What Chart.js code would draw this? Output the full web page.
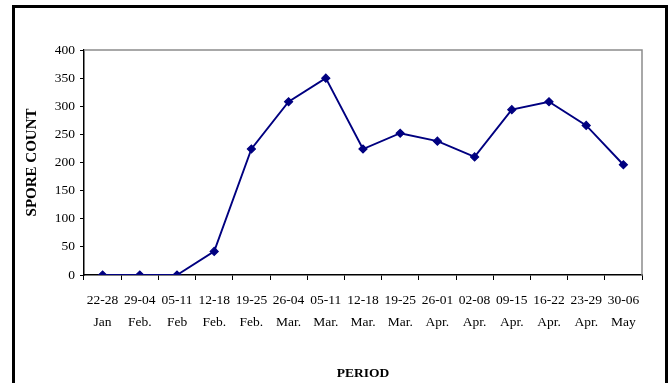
<!DOCTYPE html>
<html>
<head>
<meta charset="utf-8">
<script src="https://cdn.jsdelivr.net/npm/chart.js@4"></script>
<style>
  html, body { margin: 0; padding: 0; background: #fff; }
  #wrap { position: relative; width: 669px; height: 383px; }
  #frame { position: absolute; left: 12px; top: 5px; width: 650px; height: 380px;
           border: 3px solid #000; border-bottom: none; pointer-events: none; }
</style>
</head>
<body>
<div id="wrap">
  <canvas id="c" width="669" height="383"></canvas>
  <div id="frame"></div>
</div>
<script>
const periods = ["22-28","29-04","05-11","12-18","19-25","26-04","05-11","12-18","19-25","26-01","02-08","09-15","16-22","23-29","30-06"];
const months  = ["Jan","Feb.","Feb","Feb.","Feb.","Mar.","Mar.","Mar.","Mar.","Apr.","Apr.","Apr.","Apr.","Apr.","May"];
const sporeCount = [0, 0, 0, 42, 224, 308, 350, 224, 252, 238, 210, 294, 308, 266, 196];
const yTicks = [0, 50, 100, 150, 200, 250, 300, 350, 400];

const labels = periods.map((p, i) => [p, months[i]]);

const frameLines = {
  id: 'frameLines',
  afterDraw(chart) {
    const {ctx, chartArea: a} = chart;
    ctx.save();
    ctx.strokeStyle = '#8c8c8c';
    ctx.lineWidth = 1.5;
    ctx.beginPath();
    ctx.moveTo(a.left, a.top);
    ctx.lineTo(a.right, a.top);
    ctx.lineTo(a.right, a.bottom);
    ctx.stroke();
    ctx.restore();
  }
};

const FONT = "'Liberation Serif', 'Times New Roman', serif";

new Chart(document.getElementById('c'), {
  type: 'line',
  data: {
    labels: labels,
    datasets: [{
      data: sporeCount,
      borderColor: '#000080',
      backgroundColor: '#000080',
      borderWidth: 1.9,
      pointStyle: 'rectRot',
      pointRadius: 4,
      pointBorderWidth: 1.2,
      pointBorderColor: '#000080',
      pointBackgroundColor: '#000080',
      tension: 0,
      fill: false
    }]
  },
  options: {
    responsive: false,
    animation: false,
    events: [],
    layout: { padding: { top: 50, right: 27, left: 0, bottom: 0 } },
    plugins: { legend: { display: false }, tooltip: { enabled: false } },
    scales: {
      x: {
        offset: true,
        afterFit(scale) { scale.height = 108; },
        grid: { display: true, offset: true, drawOnChartArea: false, drawTicks: true,
                tickLength: 5, color: '#000', lineWidth: 1 },
        border: { display: true, color: '#000', width: 1.5 },
        ticks: { color: '#000', padding: 9, maxRotation: 0, autoSkip: false,
                 font: { family: FONT, size: 13.5, lineHeight: 1.63 } },
        title: { display: true, text: 'PERIOD', color: '#000',
                 padding: { top: 0, bottom: 1 },
                 font: { family: FONT, size: 13.5, weight: 'bold', lineHeight: 1.2 } }
      },
      y: {
        min: 0, max: 400,
        afterFit(scale) { scale.width = 84; },
        afterBuildTicks(scale) { scale.ticks = yTicks.map(v => ({ value: v })); },
        grid: { display: true, drawOnChartArea: false, drawTicks: true,
                tickLength: 4, color: '#000', lineWidth: 1 },
        border: { display: true, color: '#000', width: 1.5 },
        ticks: { color: '#000', padding: 5,
                 font: { family: FONT, size: 13.5 } },
        title: { display: true, text: 'SPORE COUNT', color: '#000',
                 padding: { top: 23, bottom: 0 },
                 font: { family: FONT, size: 15, weight: 'bold', lineHeight: 1.2 } }
      }
    }
  },
  plugins: [frameLines]
});
</script>
</body>
</html>
